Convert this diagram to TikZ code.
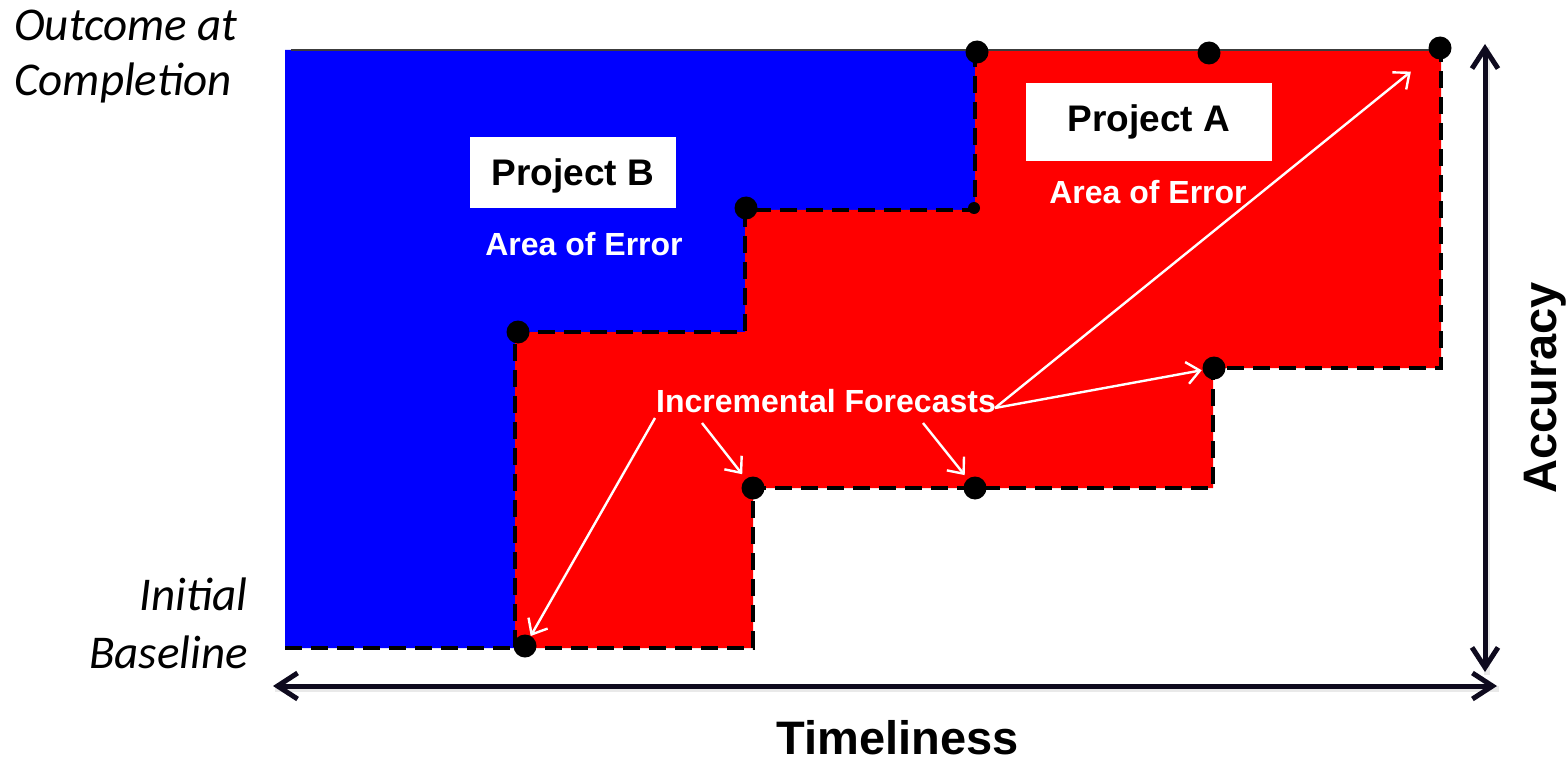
\documentclass[tikz,border=0pt]{standalone}
\usepackage{fontspec}
\setmainfont{Liberation Sans}
\newfontfamily\calitalic{Carlito}
\usetikzlibrary{arrows.meta}

\definecolor{areablue}{RGB}{0,0,255}
\definecolor{areared}{RGB}{255,0,0}
\definecolor{axisink}{RGB}{14,10,30}
\definecolor{edgegray}{RGB}{60,60,60}

\tikzset{
  fillblue/.style={fill=areablue, draw=none},
  fillred/.style={fill=areared, draw=none},
  edgedash/.style={draw=black, line width=4.2pt, dash pattern=on 17pt off 9pt},
  topedge/.style={draw=edgegray, line width=2.2pt},
  dot/.style={circle, fill=black, inner sep=0pt, outer sep=0pt, minimum size=23pt},
  smalldot/.style={circle, fill=black, inner sep=0pt, outer sep=0pt, minimum size=12pt},
  axisline/.style={draw=axisink, line width=5pt, {Straight Barb[length=20pt,width=26pt]}-{Straight Barb[length=20pt,width=26pt]}},
  axisshadow/.style={draw=black!25, line width=6pt, opacity=0.35},
  pointer/.style={draw=white, line width=2.4pt, -{Straight Barb[length=13pt,width=22pt]}},
  projbox/.style={fill=white, inner sep=0pt, font=\fontsize{37}{40}\selectfont\bfseries},
  errlabel/.style={text=white, inner sep=0pt, font=\fontsize{32}{36}\selectfont\bfseries},
  endlabel/.style={inner sep=0pt, font=\calitalic\itshape\fontsize{47}{52}\selectfont},
  axislabel/.style={inner sep=0pt, font=\fontsize{47}{52}\selectfont\bfseries}
}

\begin{document}
\begin{tikzpicture}[x=1pt, y=-1pt]
  \useasboundingbox (0,0) rectangle (1568,762);

  % corner points of the two step profiles
  \coordinate (tl) at (285,50);
  \coordinate (tm) at (975,50);
  \coordinate (tr) at (1441,50);
  \coordinate (b1) at (975,210);
  \coordinate (b2) at (745,210);
  \coordinate (b3) at (745,332);
  \coordinate (b4) at (515,332);
  \coordinate (bl) at (285,648);
  \coordinate (bm) at (515,648);
  \coordinate (a1) at (1441,368);
  \coordinate (a2) at (1213,368);
  \coordinate (a3) at (1213,488);
  \coordinate (a4) at (753,488);
  \coordinate (a5) at (753,648);

  % Project B area
  \path[fillblue] (tl) -- (tm) -- (b1) -- (b2) -- (b3) -- (b4) -- (bm) -- (bl) -- cycle;
  % Project A area
  \path[fillred] (tm) -- (tr) -- (a1) -- (a2) -- (a3) -- (a4) -- (a5) -- (bm) -- (b4) -- (b3) -- (b2) -- (b1) -- cycle;

  % outlines
  \draw[topedge] ([xshift=6pt]tl) -- (tr);
  \draw[edgedash] (tm) -- (b1) -- (b2) -- (b3) -- (b4) -- (bm);
  \draw[edgedash] (bl) -- (a5) -- (a4) -- (a3) -- (a2) -- (a1) -- (tr);

  % forecast points
  \node[dot] (p1) at (977,52) {};
  \node[dot] (p2) at (1209,53) {};
  \node[dot] (p3) at (1440,48) {};
  \node[dot] (p4) at (746,208) {};
  \node[smalldot] (p5) at (974,208) {};
  \node[dot] (p6) at (518,332) {};
  \node[dot] (p7) at (525,646) {};
  \node[dot] (p8) at (753,488) {};
  \node[dot] (p9) at (975,488) {};
  \node[dot] (p10) at (1214,368) {};

  % labels inside the areas
  \node[projbox, text depth=0pt, minimum width=206pt, minimum height=71pt] (projB) at (573,172.5) {Project B};
  \node[projbox, minimum width=246pt, minimum height=78pt] (projA) at (1149,122) {Project A};
  \node[errlabel, anchor=base] (errB) at (584,255) {Area of Error};
  \node[errlabel, anchor=base] (errA) at (1148,204) {Area of Error};
  \node[errlabel, anchor=base] (incr) at (826,412) {Incremental Forecasts};

  % pointers from the forecast label
  \coordinate (f1) at (655,418);
  \coordinate (f2) at (702,423);
  \coordinate (f3) at (923,423);
  \coordinate (f4) at (995,408);
  \draw[pointer] (f1) -- (p7);
  \draw[pointer, shorten >=6pt] (f2) -- (p8);
  \draw[pointer, shorten >=5pt] (f3) -- (p9);
  \draw[pointer, shorten >=1pt] (f4) -- (p10);
  \draw[pointer, shorten >=26pt] (f4) -- (p3);

  % axes
  \coordinate (xl) at (273,686);
  \coordinate (xr) at (1497,686);
  \coordinate (yt) at (1485,44);
  \coordinate (yb) at (1485,672);
  \draw[axisshadow] ([shift={(2,3)}]xl) -- ([shift={(2,3)}]xr);
  \draw[axisshadow] ([shift={(2,3)}]yt) -- ([shift={(2,3)}]yb);
  \draw[axisline] (xl) -- (xr);
  \draw[axisline] (yt) -- (yb);

  % axis titles
  \node[axislabel, anchor=base] (tlab) at (898,754) {Timeliness};
  \node[axislabel, anchor=base, rotate=90] (alab) at (1556,388) {Accuracy};

  % end-point labels
  \node[endlabel, anchor=base west] (out1) at (14,41) {Outcome at};
  \node[endlabel, anchor=base west] (out2) at (14,96) {Completion};
  \node[endlabel, anchor=base east] (ini1) at (248,610) {Initial};
  \node[endlabel, anchor=base east] (ini2) at (248,668) {Baseline};
\end{tikzpicture}
\end{document}
